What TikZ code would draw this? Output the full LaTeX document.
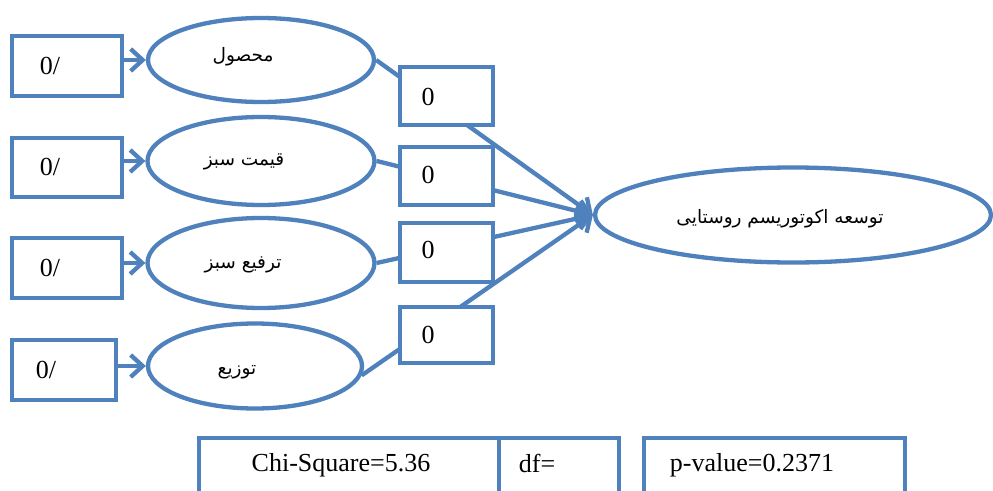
\documentclass[tikz,border=0pt]{standalone}
\usepackage{fontspec}
\setmainfont{Liberation Serif}
\newfontfamily\arabicfont[Script=Arabic]{DejaVu Sans}
\TeXXeTstate=1
\usetikzlibrary{shapes.geometric,arrows.meta}
\definecolor{sblue}{HTML}{4F81BD}
\begin{document}
\begin{tikzpicture}[x=1pt,y=-1pt,
  outl/.style={draw=sblue, line width=4.3pt, fill=white, inner sep=0pt},
  rbox/.style={outl, rectangle, minimum width=#1},
  oval/.style={outl, ellipse},
  arr/.style={draw=sblue, line width=4.3pt, -{Straight Barb[length=12pt,width=22pt,line width=4.3pt]}},
  lbl/.style={font=\fontsize{26}{30}\selectfont, inner sep=0pt},
  fa/.style={font=\arabicfont\fontsize{18.5}{24}\selectfont, inner sep=0pt}]
\clip (0,0) rectangle (993,490);
\fill[white] (0,0) rectangle (993,490);
% left boxes
\node[rbox=110pt, minimum height=60pt] (L1) at (67,66) {};
\node[rbox=110pt, minimum height=59pt] (L2) at (67,167.5) {};
\node[rbox=110pt, minimum height=60pt] (L3) at (67,268) {};
\node[rbox=104pt, minimum height=60pt] (L4) at (64,370) {};
\node[lbl] (l1t) at (50,66) {0/};
\node[lbl] (l2t) at (50,167) {0/};
\node[lbl] (l3t) at (50,268) {0/};
\node[lbl] (l4t) at (46,370) {0/};
% ellipses
\node[oval, minimum width=226pt, minimum height=84pt] (E1) at (261,60) {};
\node[oval, minimum width=227pt, minimum height=88pt] (E2) at (261,161) {};
\node[oval, minimum width=227pt, minimum height=90pt] (E3) at (261,263) {};
\node[oval, minimum width=214pt, minimum height=85pt] (E4) at (255,366) {};
\node[fa] (e1t) at (243,57) {\beginR محصول\endR};
\node[fa] (e2t) at (244,162) {\beginR قیمت سبز\endR};
\node[fa] (e3t) at (243,265) {\beginR ترفیع سبز\endR};
\node[fa] (e4t) at (237,372) {\beginR توزیع\endR};
% big ellipse
\node[oval, minimum width=396pt, minimum height=95pt] (BIG) at (793,215) {};
\node[fa] (bigt) at (780,219) {\beginR توسعه اکوتوریسم روستایی\endR};
% arrows into small ellipses
\draw[arr] (L1.east |- E1.west) -- (E1.west);
\draw[arr] (L2.east |- E2.west) -- (E2.west);
\draw[arr] (L3.east |- E3.west) -- (E3.west);
\draw[arr] (L4.east |- E4.west) -- (E4.west);
% lines to big ellipse
\draw[arr] (E1.east) -- (BIG.west);
\draw[arr] (E2.east) -- (BIG.west);
\draw[arr] (E3.east) -- (BIG.west);
\draw[arr] (E4.355) -- (BIG.west);
% zero boxes on top
\node[rbox=93pt, minimum height=58pt] (B1) at (446.5,96) {};
\node[rbox=93pt, minimum height=58pt] (B2) at (446.5,176) {};
\node[rbox=93pt, minimum height=59pt] (B3) at (446.5,252.5) {};
\node[rbox=93pt, minimum height=56pt] (B4) at (446.5,335) {};
\node[lbl] (b1t) at (428,97) {0};
\node[lbl] (b2t) at (428,175) {0};
\node[lbl] (b3t) at (428,250) {0};
\node[lbl] (b4t) at (428,335) {0};
% bottom statistic boxes
\node[rbox=300pt, minimum height=80pt, anchor=north west] (CHI) at (197,436) {};
\node[rbox=120pt, minimum height=80pt, anchor=north west] (DF) at (497,436) {};
\node[rbox=261pt, minimum height=80pt, anchor=north west] (PV) at (642,436) {};
\node[lbl] (chit) at (341,465) {Chi-Square=5.36};
\node[lbl] (dft) at (537,463) {df=};
\node[lbl] (pvt) at (752,465) {p-value=0.2371};
\end{tikzpicture}
\end{document}
